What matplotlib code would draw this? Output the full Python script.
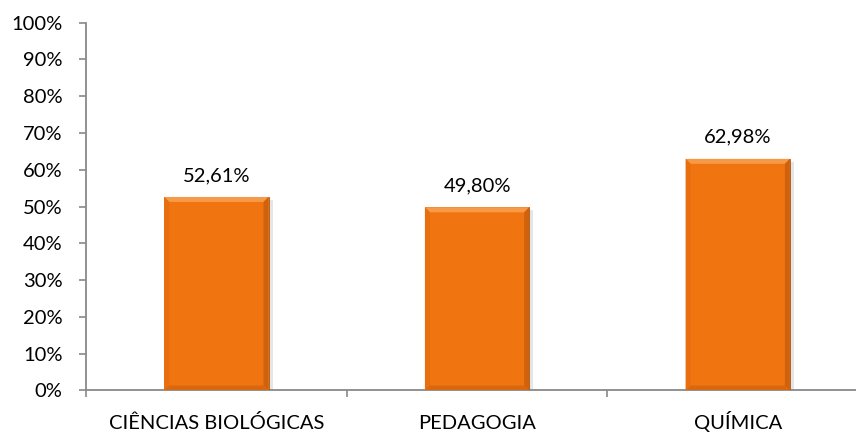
import matplotlib
matplotlib.use("Agg")
import matplotlib.pyplot as plt
from matplotlib.patches import Polygon, Rectangle
from matplotlib.ticker import FixedLocator, PercentFormatter

plt.rcParams['font.family'] = ['Lato', 'DejaVu Sans']

cursos = ['CIÊNCIAS BIOLÓGICAS', 'PEDAGOGIA', 'QUÍMICA']
valores = [0.5261, 0.4980, 0.6298]
rotulos = ['52,61%', '49,80%', '62,98%']

laranja = '#F07511'
cinza = '#898989'
fs = 14.5

fig = plt.figure(figsize=(8.56, 4.36), dpi=100)
ax = fig.add_axes([0.1005, 0.1044, 0.9136, 0.8436])

x = list(range(len(cursos)))
largura = 0.4
barras = ax.bar(x, valores, width=largura, color=laranja, zorder=3)

ax.set_xlim(-0.5, 2.5)
ax.set_ylim(0, 1.0)

# bevel, roughly 5 px each side
dx = 5 / 260.7
dy = 5 / 367.8
for b in barras:
    x0, w, h = b.get_x(), b.get_width(), b.get_height()
    x1 = x0 + w
    # shadow
    ax.add_patch(Rectangle((x0 + dx * 0.5, 0), w + dx * 0.3, h - dy * 0.6,
                           color='#000000', alpha=0.10, zorder=2, lw=0))
    ax.add_patch(Polygon([(x0, h), (x1, h), (x1 - dx, h - dy), (x0 + dx, h - dy)],
                         closed=True, color='#F79A48', lw=0, zorder=4))
    ax.add_patch(Polygon([(x0, 0), (x0, h), (x0 + dx, h - dy), (x0 + dx, dy)],
                         closed=True, color='#E86F10', lw=0, zorder=4))
    ax.add_patch(Polygon([(x1, 0), (x1, h), (x1 - dx, h - dy), (x1 - dx, dy)],
                         closed=True, color='#D0620D', lw=0, zorder=4))
    ax.add_patch(Polygon([(x0, 0), (x1, 0), (x1 - dx, dy), (x0 + dx, dy)],
                         closed=True, color='#D9670F', lw=0, zorder=4))
    ax.plot([x1, x1], [0, h], color='#A85008', lw=0.6, zorder=5)

for xi, v, r in zip(x, valores, rotulos):
    ax.annotate(r, (xi, v), xytext=(0, 11.5), textcoords='offset points',
                ha='center', va='baseline', fontsize=fs, color='#000000')

ax.yaxis.set_major_locator(FixedLocator([i / 10 for i in range(11)]))
ax.yaxis.set_major_formatter(PercentFormatter(1.0, decimals=0))
ax.tick_params(axis='y', direction='out', length=5, width=1.2, color=cinza,
               labelsize=fs, pad=12)

ax.xaxis.set_major_locator(FixedLocator([-0.5, 0.5, 1.5, 2.5]))
ax.xaxis.set_major_formatter(plt.NullFormatter())
ax.tick_params(axis='x', which='major', direction='out', length=5, width=1.2, color=cinza)

for xi, c in zip(x, cursos):
    ax.annotate(c, (xi, 0), xycoords=('data', 'axes fraction'), xytext=(0, -27.7),
                textcoords='offset points', ha='center', va='baseline', fontsize=fs)

for s in ['top', 'right']:
    ax.spines[s].set_visible(False)
for s in ['left', 'bottom']:
    ax.spines[s].set_color(cinza)
    ax.spines[s].set_linewidth(1.3)

fig.savefig('out.png', dpi=100)
